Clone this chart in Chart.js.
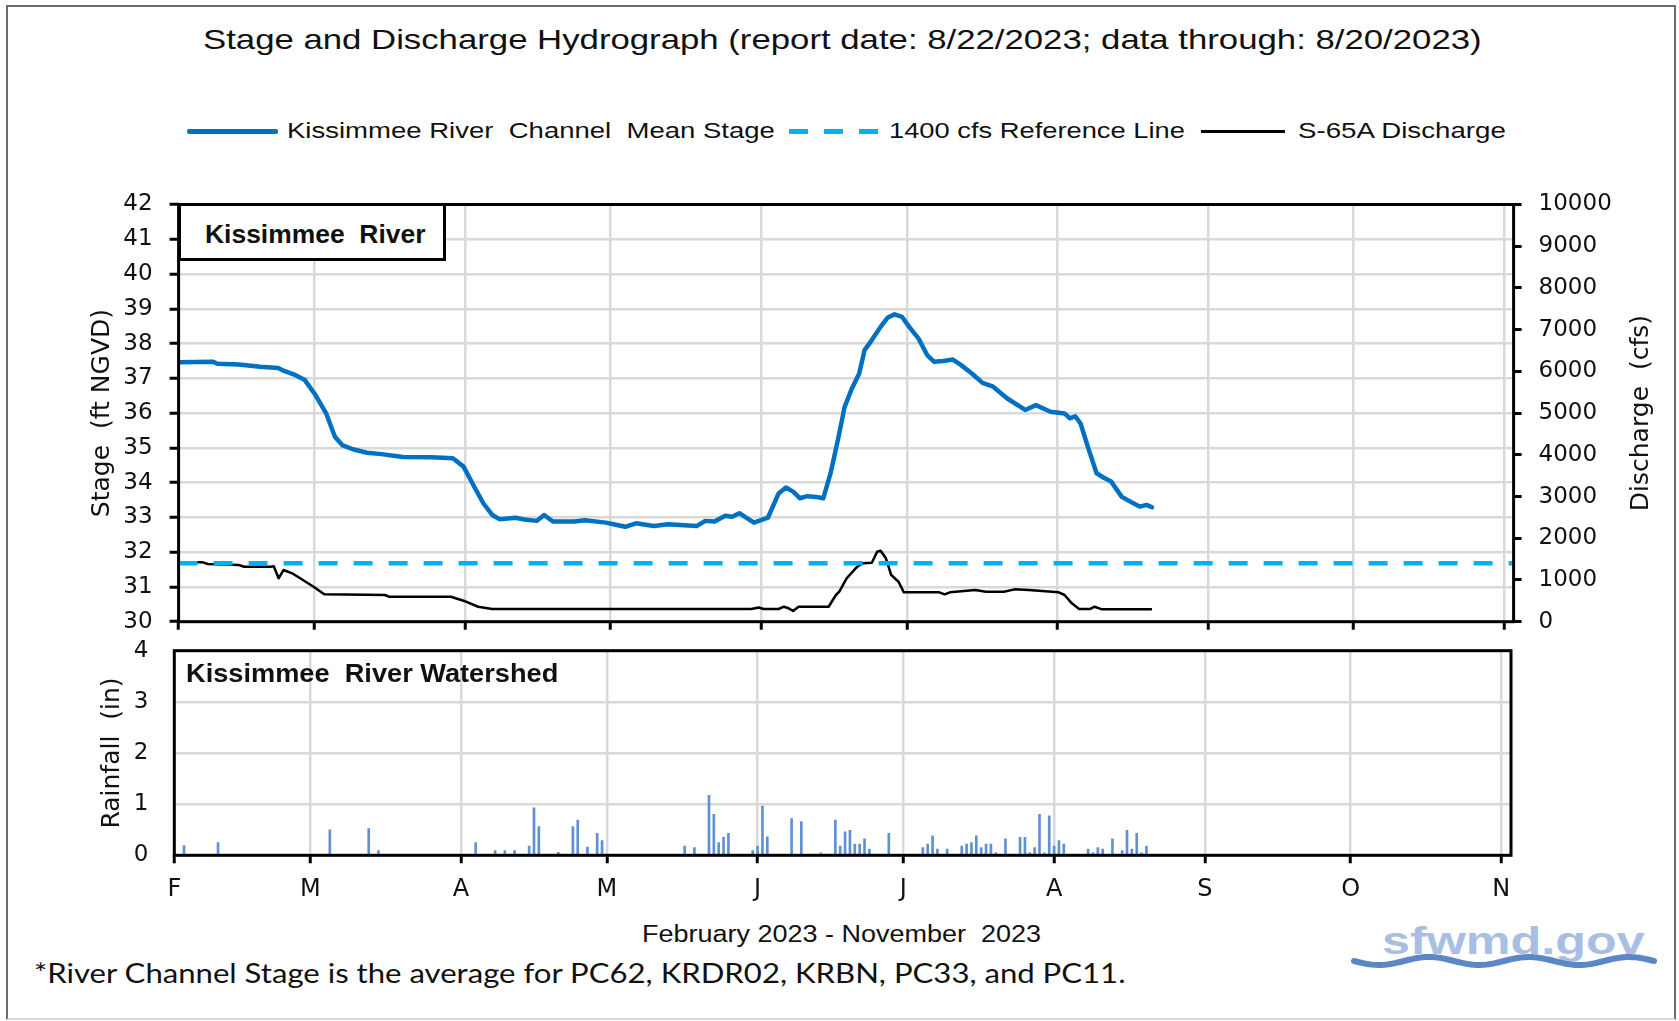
<!DOCTYPE html>
<html><head><meta charset="utf-8">
<script src="https://cdn.jsdelivr.net/npm/chart.js@4.4.0/dist/chart.umd.min.js"></script>
<style>
html,body{margin:0;padding:0;background:#fff;width:1679px;height:1021px;overflow:hidden;}
#frame{position:absolute;left:6px;top:5px;width:1670px;height:1015px;border:2px solid #6b6b6b;border-bottom-color:#d9d9d9;box-sizing:border-box;}
.t{position:absolute;white-space:pre;line-height:1;transform-origin:0 50%;font-family:"Liberation Sans",Arial,sans-serif;color:#111;z-index:5;}
canvas{position:absolute;left:0;}
.sw{position:absolute;}
</style></head><body>
<div id="frame"></div>
<canvas id="top" width="1679" height="500" style="top:150px;width:1679px;height:500px"></canvas>
<canvas id="bot" width="1679" height="300" style="top:620px;width:1679px;height:300px"></canvas>

<div class="t" id="title">Stage and Discharge Hydrograph (report date: 8/22/2023; data through: 8/20/2023)</div>
<div class="sw" style="left:187px;top:129px;width:91px;height:5px;background:#0070C0;border-radius:2px"></div>
<div class="t" id="lg1">Kissimmee River  Channel  Mean Stage</div>
<div class="sw" style="left:789px;top:129px;width:89px;height:5px;background:repeating-linear-gradient(to right,#00B0F0 0 19px,transparent 19px 35px)"></div>
<div class="t" id="lg2">1400 cfs Reference Line</div>
<div class="sw" style="left:1201px;top:130px;width:84px;height:3px;background:#000"></div>
<div class="t" id="lg3">S-65A Discharge</div>
<div class="sw" style="left:178px;top:203px;width:268px;height:58px;border:3px solid #000;background:#fff;box-sizing:border-box;z-index:4"></div>
<div class="t" id="box1" style="font-weight:bold">Kissimmee  River</div>
<div class="t" id="box2" style="font-weight:bold">Kissimmee  River Watershed</div>
<div class="t" id="xtitle">February 2023 - November  2023</div>
<div class="t" id="foot" style="font-family:Lato,'Open Sans',sans-serif">*River Channel Stage is the average for PC62, KRDR02, KRBN, PC33, and PC11.</div>
<div class="t" id="logo" style="font-weight:bold;color:#a9bee3;font-family:'Liberation Sans',Arial,sans-serif">sfwmd.gov</div>
<svg id="wave" style="position:absolute;left:1350px;top:950px;z-index:6" width="308" height="22"></svg>

<script>
// ---------------- data ----------------
const monthDays   = [0, 28, 59, 89, 120, 150, 181, 212, 242, 273]; // days since 2023-02-01
const monthLabels = ['F','M','A','M','J','J','A','S','O','N'];
const xMax = 275;

const stageDays = [0,7,8,12.4,16.8,20.5,21.6,24.1,26,28.2,30.4,32.2,33.7,35.9,38.8,41.8,46.2,52.1,56.5,58.7,60.9,62.8,64.6,66.1,69.4,71.2,73.8,75.3,77.1,81.5,83.7,88,90.3,92,94.2,97.9,100.8,106.7,108.5,110.4,112.6,114,115.5,118.5,121.4,123.6,125.1,126.6,128,129.5,131.3,132.8,134.3,135.8,137.2,138.7,140.2,141.3,142.8,144.6,146.1,147.5,149,150.5,152.4,154.2,155.6,157.5,159.5,161.2,163.4,165.6,167.8,170.7,174.4,176.6,179.6,182.5,183.6,184.7,185.8,187.3,189.1,190.6,192.1,194.3,196.1,198,199.4,200.5];
const stageValues = [37.46,37.48,37.42,37.40,37.33,37.30,37.22,37.09,36.95,36.52,35.99,35.32,35.08,34.96,34.86,34.82,34.74,34.73,34.70,34.46,33.88,33.40,33.07,32.95,32.99,32.94,32.90,33.07,32.88,32.88,32.92,32.85,32.78,32.73,32.83,32.75,32.80,32.75,32.90,32.88,33.05,33.02,33.12,32.85,32.99,33.69,33.86,33.74,33.55,33.61,33.59,33.55,34.27,35.22,36.18,36.71,37.14,37.81,38.10,38.48,38.75,38.84,38.77,38.48,38.15,37.67,37.48,37.50,37.54,37.38,37.14,36.87,36.76,36.42,36.09,36.23,36.04,35.99,35.85,35.91,35.70,35.03,34.27,34.14,34.03,33.59,33.45,33.31,33.36,33.29];

const dischargeDays = [0,5,6,12.4,13.5,19,19.6,20.6,21.6,23.4,27.8,30,42.5,43.3,56.1,58.7,61.7,64.6,118,119.5,120.5,121.5,123.6,124.7,125.5,126.6,127.7,133.9,135.4,136.1,137.6,139.8,140.9,142.8,143.9,144.6,145.7,146.8,148.3,149.4,156.7,157.8,158.9,164.1,166.3,170,172.2,175.1,181.3,182.5,184,185.5,187.7,188.7,190.2,200.5];
const dischargeValues = [1423,1423,1382,1358,1318,1318,1330,1040,1239,1160,839,656,640,599,599,503,359,304,304,340,304,304,304,359,330,256,359,359,640,719,1040,1318,1399,1414,1677,1701,1519,1119,958,704,704,656,704,759,719,719,775,759,704,640,440,304,304,359,296,296];

const referenceCfs = 1400;

const rainDays = [2,9,32,40,42,62,66,68,70,73,74,75,79,82,83,85,87,88,105,107,110,111,112,113,114,119,120,121,122,127,129,133,136,137,138,139,140,141,142,143,147,154,155,156,157,159,162,163,164,165,166,167,168,169,171,174,175,176,177,178,179,180,181,182,183,188,189,190,191,193,195,196,197,198,199,200];
const rainValues = [0.19,0.25,0.50,0.52,0.09,0.25,0.09,0.09,0.09,0.18,0.93,0.56,0.06,0.56,0.69,0.16,0.43,0.29,0.18,0.15,1.17,0.80,0.25,0.35,0.43,0.09,0.18,0.96,0.36,0.72,0.66,0.05,0.69,0.18,0.46,0.49,0.22,0.22,0.32,0.12,0.43,0.15,0.22,0.38,0.12,0.12,0.18,0.22,0.25,0.38,0.15,0.22,0.22,0.05,0.32,0.35,0.35,0.05,0.15,0.80,0.05,0.77,0.18,0.29,0.22,0.12,0.05,0.15,0.12,0.32,0.09,0.49,0.12,0.43,0.05,0.18];

// ---------------- text placement ----------------
function place(id, left, width, cy, fs){
  const el = document.getElementById(id);
  el.style.fontSize = fs + 'px';
  el.style.left = left + 'px';
  el.style.top = (cy - 0.5*fs) + 'px';
  const w = el.offsetWidth;
  el.style.transform = 'scaleX(' + (width / w) + ')';
}
place('title', 203, 1278, 40, 28);
place('lg1', 287, 488, 131.5, 22.5);
place('lg2', 889, 296, 131.5, 22.5);
place('lg3', 1298, 208, 131.5, 22.5);
place('box1', 205, 220, 234, 25);
place('box2', 186, 372, 673, 25);
place('xtitle', 642, 399, 934, 23);
place('foot', 34, 1092, 973, 26);
place('logo', 1382, 262, 941, 38);

// logo wave (decoration)
(function(){
  const svg = document.getElementById('wave');
  let d = '';
  for (let i = 0; i <= 300; i += 3) {
    const y = 11 + 4*Math.sin(i/300*Math.PI*2*3);
    d += (i ? 'L' : 'M') + (i+4) + ' ' + y.toFixed(2) + ' ';
  }
  svg.innerHTML = '<path d="' + d + '" fill="none" stroke="#5b87c6" stroke-width="6" stroke-linecap="round"/>';
})();

// ---------------- charts ----------------
const TICKFONT = {family: '"DejaVu Sans"', size: 23};
const GRID = '#d9d9d9';

const framePlugin = {
  id: 'frame',
  afterDraw(chart) {
    const a = chart.chartArea, ctx = chart.ctx;
    ctx.save();
    ctx.strokeStyle = '#000';
    ctx.lineWidth = 3;
    ctx.strokeRect(a.left, a.top, a.right - a.left, a.bottom - a.top);
    if (chart.options.plugins.rightTitle) {
      const o = chart.options.plugins.rightTitle;
      ctx.translate(o.x, (a.top + a.bottom) / 2);
      ctx.rotate(-Math.PI / 2);
      ctx.font = '25px "DejaVu Sans"';
      ctx.fillStyle = '#111';
      ctx.textAlign = 'center';
      ctx.textBaseline = 'middle';
      ctx.fillText(o.text, 0, 0);
    }
    ctx.restore();
  }
};

function monthTicks(scale) { scale.ticks = monthDays.map(v => ({value: v})); }
function fixW(w) { return s => { s.width = w; s.paddingTop = 0; s.paddingBottom = 0; }; }
function fixH(h) { return s => { s.height = h; s.paddingLeft = 0; s.paddingRight = 0; }; }
const plain = v => String(v);

new Chart(document.getElementById('top'), {
  type: 'line',
  data: {
    datasets: [
      {label: 'Kissimmee River  Channel  Mean Stage', yAxisID: 'y',
       data: stageDays.map((d, i) => ({x: d, y: stageValues[i]})),
       borderColor: '#0070C0', borderWidth: 4.5, pointRadius: 0, tension: 0, borderJoinStyle: 'round', borderCapStyle: 'round', order: 1},
      {label: '1400 cfs Reference Line', yAxisID: 'y1',
       data: [{x: 0, y: referenceCfs}, {x: xMax, y: referenceCfs}],
       borderColor: '#00B0F0', borderWidth: 4.5, borderDash: [19, 16], pointRadius: 0, order: 2},
      {label: 'S-65A Discharge', yAxisID: 'y1',
       data: dischargeDays.map((d, i) => ({x: d, y: dischargeValues[i]})),
       borderColor: '#000', borderWidth: 2.5, pointRadius: 0, tension: 0, borderJoinStyle: 'round', order: 3}
    ]
  },
  options: {
    responsive: false, animation: false, devicePixelRatio: 1,
    layout: {padding: {top: 54.5, left: 0, right: 0, bottom: 0}},
    plugins: {legend: {display: false}, tooltip: {enabled: false},
      rightTitle: {x: 1641, text: 'Discharge  (cfs)'}},
    scales: {
      x: {type: 'linear', min: 0, max: xMax, afterBuildTicks: monthTicks,
          afterFit: fixH(28.3),
          ticks: {display: false},
          grid: {color: GRID, lineWidth: 2.5, tickColor: '#000', tickWidth: 3, tickLength: 8},
          border: {display: false}},
      y: {position: 'left', min: 30, max: 42,
          afterFit: fixW(178.6),
          ticks: {stepSize: 1, font: TICKFONT, color: '#111', padding: 17, autoSkip: false, callback: plain},
          grid: {color: GRID, lineWidth: 2.5, tickColor: '#000', tickWidth: 3, tickLength: 9},
          border: {display: false},
          title: {display: true, text: 'Stage  (ft NGVD)', color: '#111',
                  font: {family: '"DejaVu Sans"', size: 25}, padding: {top: 87, bottom: 0}}},
      y1: {position: 'right', min: 0, max: 10000,
          afterFit: fixW(165.4),
          ticks: {stepSize: 1000, font: TICKFONT, color: '#111', padding: 17, autoSkip: false, callback: plain},
          grid: {drawOnChartArea: false, tickColor: '#000', tickWidth: 3, tickLength: 8},
          border: {display: false}}
    }
  },
  plugins: [framePlugin]
});

new Chart(document.getElementById('bot'), {
  type: 'bar',
  data: {
    datasets: [{label: 'Rainfall', data: rainDays.map((d, i) => ({x: d, y: rainValues[i]})),
      backgroundColor: '#6090d4', barThickness: 2}]
  },
  options: {
    responsive: false, animation: false, devicePixelRatio: 1,
    layout: {padding: {top: 30.7, left: 0, right: 168, bottom: 0}},
    plugins: {legend: {display: false}, tooltip: {enabled: false}},
    scales: {
      x: {type: 'linear', min: 0, max: xMax, offset: false, afterBuildTicks: monthTicks,
          afterFit: fixH(64.7),
          ticks: {font: {family: '"DejaVu Sans"', size: 24}, color: '#111', padding: 12, autoSkip: false, maxRotation: 0,
                  callback: (v, i) => monthLabels[i]},
          grid: {color: GRID, lineWidth: 2.5, tickColor: '#000', tickWidth: 3, tickLength: 8, offset: false},
          border: {display: false}},
      y: {position: 'left', min: 0, max: 4,
          afterFit: fixW(174.3),
          ticks: {stepSize: 1, font: TICKFONT, color: '#111', padding: 26, callback: plain},
          grid: {color: GRID, lineWidth: 2.5, drawTicks: false},
          border: {display: false},
          title: {display: true, text: 'Rainfall  (in)', color: '#111',
                  font: {family: '"DejaVu Sans"', size: 25}, padding: {top: 97, bottom: 0}}}
    }
  },
  plugins: [framePlugin]
});
</script>
</body></html>
